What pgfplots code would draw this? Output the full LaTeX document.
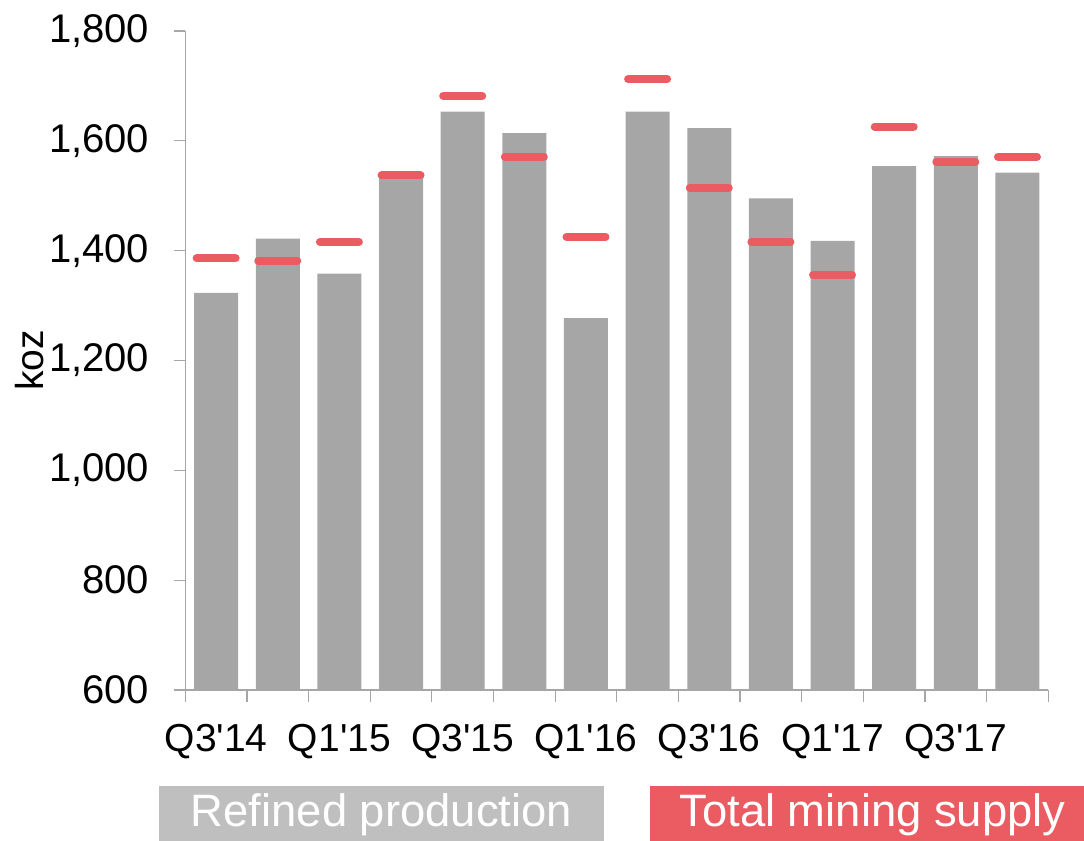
\documentclass[border=0pt]{standalone}
\usepackage{pgfplots}
\usepackage{pgfplotstable}
\pgfplotsset{compat=1.18}
\usepackage{fontspec}
\setmainfont{Liberation Sans}

\definecolor{barGray}{HTML}{A6A6A6}
\definecolor{supplyRed}{HTML}{EB5C62}
\definecolor{legendGray}{HTML}{BFBFBF}
\definecolor{axisGray}{HTML}{A6A6A6}

% Quarterly palladium supply, koz (Q3'14 .. Q4'17)
\pgfplotstableread{
idx refined mining
0   1323    1386
1   1422    1382
2   1358    1416
3   1534    1537
4   1653    1682
5   1614    1571
6   1277    1425
7   1653    1712
8   1623    1515
9   1495    1416
10  1418    1356
11  1554    1626
12  1572    1562
13  1542    1571
}\supplytable

\newcommand{\chartfont}{\fontsize{19.5}{23}\selectfont}
\newcommand{\ytickfont}{\fontsize{20}{24}\selectfont}
\newcommand{\legendfont}{\fontsize{22.7}{26}\selectfont}
\newcommand{\q}{\textquotesingle}

\begin{document}
\begin{tikzpicture}[x=1pt,y=1pt]
\path[use as bounding box] (0,0) rectangle (542,420.5);
\begin{axis}[
  at={(92.65pt,75.5pt)}, anchor=south west,
  scale only axis, width=431.5pt, height=329.5pt,
  xmin=-0.5, xmax=13.5, ymin=600, ymax=1800,
  axis lines*=left,
  axis line style={axisGray, line width=0.6pt},
  clip=false,
  ytick={600,800,...,1800},
  xtick={0,2,...,12},
  xticklabels={Q3\q14,Q1\q15,Q3\q15,Q1\q16,Q3\q16,Q1\q17,Q3\q17},
  minor xtick={-0.5,0.5,...,13.5},
  tick align=outside,
  major tick length=5.5pt,
  minor tick length=6pt,
  major x tick style={draw=none},
  every tick/.style={axisGray, line width=0.6pt},
  /pgf/number format/.cd, 1000 sep={,}, assume math mode=true,
  /pgfplots/.cd,
  tick label style={font=\chartfont, black},
  yticklabel style={font=\ytickfont, xshift=-9pt},
  xticklabel style={yshift=-8pt},
  ylabel={koz},
  ylabel style={font=\chartfont, at={(axis description cs:-0.18,0.5)}, anchor=center},
]
  \addplot[ybar, bar width=22pt, bar shift=0pt, fill=barGray, draw=none]
    table[x=idx, y=refined] {\supplytable};
  \addplot[only marks, mark=-, mark size=9.75pt,
           mark options={supplyRed, line width=4pt, line cap=round}]
    table[x=idx, y=mining] {\supplytable};
\end{axis}
% legend boxes
\fill[legendGray] (79.5,0) rectangle (302,27.5);
\node[anchor=base, text=white, font=\legendfont, inner sep=0pt] at (190.75,7) {Refined production};
\fill[supplyRed] (325,0) rectangle (542,27.5);
\node[anchor=base, text=white, font=\legendfont, inner sep=0pt] at (436.25,7) {Total mining supply};
\end{tikzpicture}
\end{document}
